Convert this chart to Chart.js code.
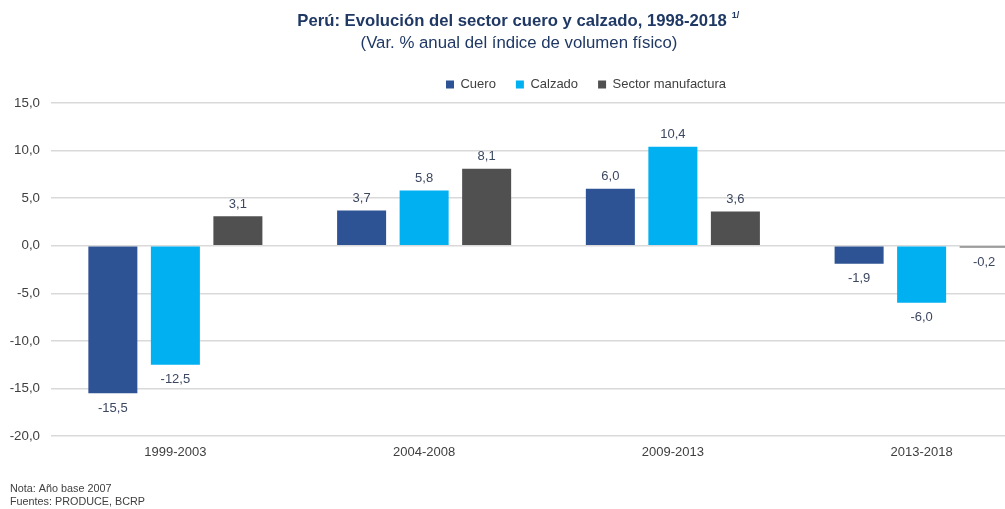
<!DOCTYPE html>
<html>
<head>
<meta charset="utf-8">
<script src="https://cdn.jsdelivr.net/npm/chart.js@4"></script>
<style>
html,body{margin:0;padding:0;background:#fff;overflow:hidden;width:1005px;height:509px;}
#wrap{position:relative;width:1046px;height:509px;}
</style>
</head>
<body>
<div id="wrap"><canvas id="c"></canvas></div>
<script>
const categories = ['1999-2003', '2004-2008', '2009-2013', '2013-2018'];
const cuero = [-15.5, 3.7, 6.0, -1.9];
const calzado = [-12.5, 5.8, 10.4, -6.0];
const manufactura = [3.1, 8.1, 3.6, -0.2];
const seriesNames = ['Cuero', 'Calzado', 'Sector manufactura'];
const yTicks = [-20, -15, -10, -5, 0, 5, 10, 15];
const titleText = 'Perú: Evolución del sector cuero y calzado, 1998-2018';
const titleSup = '1/';
const subtitleText = '(Var. % anual del índice de volumen físico)';
const notes = ['Nota: Año base 2007', 'Fuentes: PRODUCE, BCRP'];

const fmt = v => v.toFixed(1).replace('.', ',');
const FONT = "'Liberation Sans', Arial, sans-serif";

const textPlugin = {
  id: 'texts',
  afterDraw(chart) {
    const ctx = chart.ctx;
    ctx.save();
    // title
    ctx.fillStyle = '#1F3864';
    ctx.font = 'bold 16.7px ' + FONT;
    ctx.textBaseline = 'middle';
    ctx.textAlign = 'left';
    const tw = ctx.measureText(titleText).width;
    const tx = 512 - tw / 2;
    ctx.fillText(titleText, tx, 21);
    ctx.font = 'bold 9px ' + FONT;
    ctx.fillText(titleSup, tx + tw + 5, 16);
    ctx.font = '16.8px ' + FONT;
    ctx.textAlign = 'center';
    ctx.fillText(subtitleText, 519, 43);
    // notes
    ctx.fillStyle = '#404040';
    ctx.font = '10.8px ' + FONT;
    ctx.textAlign = 'left';
    ctx.fillText(notes[0], 10, 489);
    ctx.fillText(notes[1], 10, 502);
    // data labels
    ctx.fillStyle = '#3c4760';
    ctx.font = '13px ' + FONT;
    ctx.textAlign = 'center';
    const zero = chart.scales.y.getPixelForValue(0);
    chart.data.datasets.forEach((ds, i) => {
      const meta = chart.getDatasetMeta(i);
      meta.data.forEach((bar, j) => {
        const v = ds.data[j];
        if (v >= 0) {
          ctx.fillText(fmt(v), bar.x, bar.y - 12);
        } else {
          ctx.fillText(fmt(v), bar.x, Math.max(bar.y, zero + 1) + 15);
        }
      });
    });
    ctx.restore();
  }
};

const shiftLegend = {
  id: 'shiftLegend',
  afterLayout(chart) {
    const lg = chart.legend;
    if (lg) { lg.left += 63; lg.right += 63; lg.top -= 2; lg.bottom -= 2; }
  }
};

new Chart(document.getElementById('c'), {
  type: 'bar',
  data: {
    labels: categories,
    datasets: [
      { label: seriesNames[0], data: cuero, backgroundColor: '#2E5395' },
      { label: seriesNames[1], data: calzado, backgroundColor: '#00B0F0' },
      { label: seriesNames[2], data: manufactura, backgroundColor: '#505050' }
    ]
  },
  options: {
    responsive: true,
    maintainAspectRatio: false,
    animation: false,
    devicePixelRatio: 1,
    layout: { padding: { top: 60, bottom: 33, left: 0, right: 0 } },
    datasets: { bar: { categoryPercentage: 0.754, barPercentage: 0.784 } },
    plugins: {
      title: { display: false },
      tooltip: { enabled: false },
      legend: {
        position: 'top',
        labels: {
          boxWidth: 8, boxHeight: 8, padding: 20,
          color: '#404040',
          font: { family: FONT, size: 13 }
        }
      }
    },
    scales: {
      x: {
        grid: { display: false, drawTicks: false },
        border: { display: false },
        ticks: { color: '#404040', font: { family: FONT, size: 13 }, padding: 9 },
        afterFit(s) { s.height = 40; }
      },
      y: {
        min: -20, max: 15,
        afterBuildTicks(s) { s.ticks = yTicks.map(v => ({ value: v })); },
        grid: { color: '#D9D9D9', lineWidth: 1.5, drawTicks: false },
        border: { display: false },
        ticks: {
          color: '#404040', font: { family: FONT, size: 13.3 }, padding: 11,
          callback: v => fmt(v)
        },
        afterFit(s) { s.width = 51; }
      }
    }
  },
  plugins: [textPlugin, shiftLegend]
});
</script>
</body>
</html>
